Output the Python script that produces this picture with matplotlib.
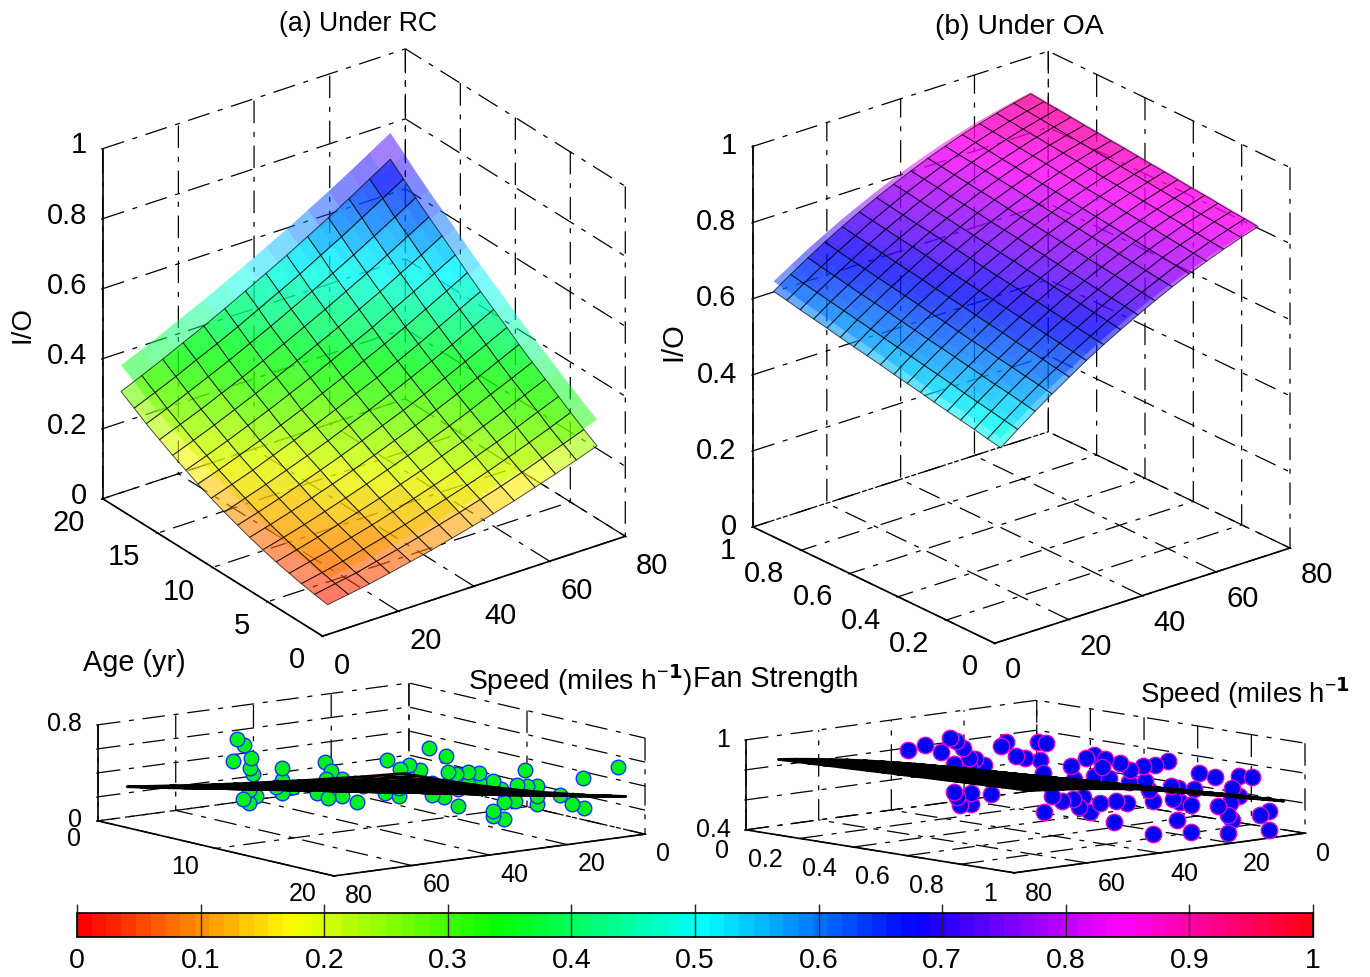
import numpy as np
import matplotlib
matplotlib.use("Agg")
import matplotlib.pyplot as plt
from matplotlib.cm import ScalarMappable
from matplotlib.colors import Normalize
from matplotlib.transforms import Affine2D
from mpl_toolkits.mplot3d import proj3d

W, H = 1370, 977
plt.rcParams['font.family'] = ['Liberation Sans', 'DejaVu Sans']
plt.rcParams['mathtext.default'] = 'regular'
plt.rcParams['grid.color'] = 'black'
plt.rcParams['grid.linewidth'] = 0.9
plt.rcParams['grid.linestyle'] = (0, (18, 7, 4, 7))
plt.rcParams['axes.linewidth'] = 1.0

# ---------- data ----------
speed_rc = [2.8, 8.3, 13.8, 19.2, 24.7, 30.2, 35.7, 41.1, 46.6, 52.1, 57.6, 63.0, 68.5, 74.0]
age_rc = [0.5, 1.7, 2.9, 4.0, 5.2, 6.4, 7.6, 8.7, 9.9, 11.1, 12.3, 13.4, 14.6, 15.8, 17.0, 18.1, 19.3]
io_rc = [
    [.070, .080, .090, .102, .115, .128, .143, .158, .174, .191, .210, .229, .249, .270],
    [.076, .087, .098, .112, .126, .141, .157, .173, .191, .209, .229, .250, .271, .293],
    [.083, .095, .108, .123, .138, .154, .172, .189, .208, .228, .249, .271, .294, .318],
    [.091, .105, .119, .135, .151, .169, .187, .206, .226, .248, .270, .293, .318, .342],
    [.100, .115, .131, .148, .166, .184, .204, .224, .246, .268, .292, .316, .342, .368],
    [.111, .127, .144, .162, .181, .201, .222, .243, .266, .289, .314, .340, .366, .393],
    [.123, .140, .158, .177, .197, .218, .240, .263, .286, .311, .337, .364, .392, .420],
    [.136, .154, .173, .194, .215, .237, .260, .284, .308, .334, .361, .389, .418, .447],
    [.150, .170, .190, .211, .233, .256, .281, .305, .331, .358, .386, .414, .445, .475],
    [.166, .186, .207, .230, .253, .277, .302, .328, .354, .382, .411, .441, .472, .503],
    [.183, .204, .226, .249, .273, .298, .325, .351, .379, .407, .437, .468, .500, .533],
    [.201, .223, .246, .270, .295, .321, .348, .376, .404, .433, .465, .496, .529, .562],
    [.220, .243, .267, .292, .318, .345, .373, .401, .430, .461, .492, .525, .558, .593],
    [.241, .265, .289, .315, .341, .369, .398, .427, .457, .489, .521, .554, .589, .623],
    [.263, .287, .313, .339, .366, .395, .424, .454, .485, .517, .550, .584, .619, .655],
    [.286, .311, .337, .365, .392, .421, .452, .482, .513, .547, .580, .615, .651, .687],
    [.310, .336, .363, .391, .419, .449, .480, .511, .543, .577, .611, .646, .683, .720],
]
speed_oa = [3.6, 8.2, 12.9, 17.5, 22.2, 26.8, 31.5, 36.1, 40.8, 45.4, 50.1, 54.7, 59.4, 64.0, 68.7, 73.3]
fan_oa = [.03, .085, .14, .196, .251, .306, .362, .417, .472, .528, .583, .638, .694, .749, .804, .86, .915, .97]
io_oa = [
    [.493, .527, .560, .591, .621, .650, .677, .702, .726, .749, .771, .791, .809, .826, .842, .856],
    [.500, .534, .567, .598, .627, .656, .682, .708, .732, .754, .775, .795, .813, .830, .846, .860],
    [.508, .541, .574, .604, .634, .662, .688, .713, .737, .759, .780, .800, .818, .834, .850, .863],
    [.515, .548, .580, .611, .640, .668, .694, .719, .742, .765, .785, .804, .822, .839, .853, .867],
    [.522, .555, .587, .617, .646, .674, .700, .725, .748, .770, .790, .809, .827, .843, .857, .871],
    [.529, .563, .594, .624, .653, .680, .706, .730, .753, .775, .795, .814, .831, .847, .861, .874],
    [.537, .570, .601, .630, .659, .686, .712, .736, .758, .780, .800, .818, .835, .851, .865, .878],
    [.544, .577, .608, .637, .665, .692, .718, .741, .764, .785, .805, .823, .840, .855, .869, .882],
    [.551, .584, .614, .644, .672, .698, .723, .747, .769, .790, .809, .827, .844, .859, .873, .885],
    [.559, .591, .621, .650, .678, .704, .729, .752, .775, .795, .814, .832, .848, .863, .877, .889],
    [.566, .598, .628, .657, .684, .710, .735, .758, .780, .800, .819, .837, .853, .868, .881, .893],
    [.573, .605, .635, .663, .691, .716, .741, .764, .785, .805, .824, .841, .857, .872, .885, .896],
    [.580, .612, .642, .670, .697, .723, .747, .769, .791, .811, .829, .846, .862, .876, .888, .900],
    [.588, .619, .648, .676, .703, .729, .753, .775, .796, .816, .834, .851, .866, .880, .892, .903],
    [.595, .626, .655, .683, .710, .735, .758, .780, .801, .821, .839, .855, .870, .884, .896, .907],
    [.602, .633, .662, .689, .716, .741, .764, .786, .807, .826, .844, .860, .875, .888, .900, .911],
    [.610, .640, .669, .696, .722, .747, .770, .792, .812, .831, .848, .865, .879, .892, .904, .914],
    [.617, .647, .676, .703, .729, .753, .776, .797, .817, .836, .853, .869, .883, .896, .908, .918],
]
lift_rc = .075
lift_oa = [.026, .024, .023, .021, .020, .018, .017, .015, .014, .012, .011, .009, .008, .006, .005, .004]
pts_rc_speed = [59.4, 57.7, 60.5, 55.7, 56, 55.2, 56.3, 58, 56.3, 54.6, 47.8, 47.8, 49.5, 47.8, 45, 36.8, 50.5, 51.7, 47.7, 38.8, 51.1, 47.7, 43.8, 44.3, 42.1, 36.1, 32.7, 30.4, 27.5, 36.1, 33, 36.4, 33, 25.1, 20.9, 35.5, 33.4, 30.4, 27.6, 24.5, 26.8, 24.5, 21.3, 21.3, 32.9, 32.9, 30.4, 27.6, 23.8, 21.8, 17.8, 15.7, 15.3, 12.7, 12.7, 12.7, 21, 18.2, 23.8, 21, 23.8, 15.9, 12.8, 9.7, 10, 0.9]
pts_rc_age = [5]*16 + [10, 10, 10, 5] + [10]*15 + [15]*4 + [10]*5 + [15]*17 + [18]*5
pts_rc_io = [.708, .653, .525, .532, .450, .398, .269, .205, .157, .211, .414, .316, .267, .204, .247, .418, .515, .456, .441, .165, .294, .298, .233, .391, .353, .543, .453, .477, .422, .341, .300, .273, .229, .595, .514, .560, .531, .533, .512, .306, .286, .207, .263, .173, .403, .263, .434, .436, .434, .355, .374, .488, .349, .344, .259, .189, .245, .241, .181, .105, .139, .349, .261, .214, .467, .518]
pts_oa_speed = [50.1, 45.4, 41.2, 38.7, 36.9, 35.1, 24.7, 23.2, 20.4, 18, 14.5, 26.9, 37.5, 33.5, 31.7, 29.3, 33.5, 14, 27.7, 20.1, 19.2, 15.9, 13.8, 25.6, 26.4, 13.8, 24.4, 21.3, 18.6, 15, 11.8, 8.2, 18.9, 14.6, 13.4, 37.5, 36.6, 32.9, 32.9, 35.9, 27.4, 27.5, 25.3, 22.5, 19.6, 16.8, 18, 15, 26.8, 22.5, 19.5, 22.9, 12.2, 27, 16.7, 7.3, 5.5, 15.8, 6.8, 4.9, 16.7, 20.4, 14.3, 10, 3.4, 14.6, 5.2, 3.4, 5.8, 9.2, 6.4, 5.2, 21.2, 12.4, 10, 10, 0, 0, 0, 0, 0]
pts_oa_fan = [.2]*11 + [.4] + [.2]*6 + [.4]*5 + [.6, .6, .4] + [.6]*9 + [.2]*6 + [.4]*7 + [.6]*5 + [.8, .8, .6, .6, .8, .6, .6] + [.8]*5 + [1] + [.8]*6 + [1]*9
pts_oa_io = [.890, .909, .851, .933, .909, .853, .834, .856, .754, .729, .829, .921, .755, .783, .771, .724, .732, .705, .723, .744, .653, .783, .796, .865, .813, .658, .733, .824, .771, .781, .777, .794, .689, .681, .617, .567, .531, .546, .475, .477, .525, .460, .560, .518, .521, .523, .460, .417, .574, .571, .551, .435, .539, .428, .403, .625, .608, .687, .534, .507, .585, .501, .793, .749, .733, .825, .661, .599, .563, .557, .487, .449, .474, .565, .579, .457, .76, .70, .615, .525, .405]

speed_ticks = [0, 20, 40, 60, 80]
age_ticks_top = [0, 5, 10, 15, 20]
age_ticks_low = [0, 10, 20]
fan_ticks = [0, .2, .4, .6, .8, 1]
cbar_ticks = [0, .1, .2, .3, .4, .5, .6, .7, .8, .9, 1]
cbar_labels = ['0', '0.1', '0.2', '0.3', '0.4', '0.5', '0.6', '0.7', '0.8', '0.9', '1']

cmap = plt.get_cmap('hsv').resampled(84)
fig = plt.figure(figsize=(W / 100, H / 100), dpi=100, facecolor='white')


def fit(ax, p_a, p_b, t_a, t_b):
    """Scale and move a square 3D axes so two box corners fall on target pixels."""
    def disp(p):
        ax.apply_aspect()
        x, y, _ = proj3d.proj_transform(p[0], p[1], p[2], ax.get_proj())
        d = ax.transData.transform((x, y))
        return np.array([d[0], H - d[1]])
    size, cx, cy = 600.0, W / 2, H / 2
    for _ in range(3):
        ax.set_position([(cx - size / 2) / W, (H - cy - size / 2) / H, size / W, size / H])
        a, b = disp(p_a), disp(p_b)
        k = np.linalg.norm(np.subtract(t_b, t_a)) / np.linalg.norm(b - a)
        size *= k
        ax.set_position([(cx - size / 2) / W, (H - cy - size / 2) / H, size / W, size / H])
        a, b = disp(p_a), disp(p_b)
        mid = (a + b) / 2
        cx += (t_a[0] + t_b[0]) / 2 - mid[0]
        cy += (t_a[1] + t_b[1]) / 2 - mid[1]
    ax.set_position([(cx - size / 2) / W, (H - cy - size / 2) / H, size / W, size / H])


def shift_labels(axis, dx, dy, ha):
    """Nudge one axis' tick labels by (dx, dy) pixels and set their alignment."""
    original = axis.get_major_ticks
    offset = Affine2D().translate(dx, dy)

    def patched(numticks=None):
        ticks = original(numticks)
        for t in ticks:
            t.label1.set_transform(axis.axes.transData + offset)
            t.label1.set_ha(ha)
        return ticks
    axis.get_major_ticks = patched


def base_axes(elev, azim, aspect, xl, yl, zl, xt, yt, zt, xlab, ylab, zlab, fs, pad):
    ax = fig.add_subplot(projection='3d', proj_type='ortho', computed_zorder=False)
    ax.patch.set_alpha(0)
    ax.view_init(elev=elev, azim=azim)
    ax.set_box_aspect(aspect)
    ax.set_xlim(*xl, view_margin=0)
    ax.set_ylim(*yl, view_margin=0)
    ax.set_zlim(*zl, view_margin=0)
    ax.set_xticks(xt, xlab, fontsize=fs)
    ax.set_yticks(yt, ylab, fontsize=fs)
    ax.set_zticks(zt, zlab, fontsize=fs)
    for a, p in zip((ax.xaxis, ax.yaxis, ax.zaxis), pad):
        a.set_pane_color((1, 1, 1, 0))
        a.pane.set_edgecolor((1, 1, 1, 0))
        a.line.set_color('black')
        a.line.set_linewidth(1.2)
        a.set_tick_params(pad=p, colors='black', width=1.0)
        a._axinfo['tick']['inward_factor'] = 0.05
        a._axinfo['tick']['outward_factor'] = 0.02
    return ax


def surf(ax, X, Y, Z, gain, shift, alpha, edge, lw, zorder):
    X, Y = np.meshgrid(X, Y)
    Z = np.asarray(Z)
    col = cmap(np.clip(gain * Z + shift, 0, 1))
    col[..., 3] = alpha
    ax.plot_surface(X, Y, Z, facecolors=col, rstride=1, cstride=1, shade=False,
                    edgecolor=edge, linewidth=lw, antialiased=True, zorder=zorder)


# ---------- (a) ----------
ax_a = base_axes(27, -126, (1, 1, 1.05), (0, 80), (0, 20), (0, 1),
                 speed_ticks, age_ticks_top, [0, .2, .4, .6, .8, 1],
                 ['0', '20', '40', '60', '80'], ['0', '5', '10', '15', '20'],
                 ['0', '0.2', '0.4', '0.6', '0.8', '1'], 21, (6, 6, 6))
surf(ax_a, speed_rc, age_rc, np.asarray(io_rc) + lift_rc, 1.0, 0.0, 0.5, 'none', 0, 2)
surf(ax_a, speed_rc, age_rc, io_rc, 1.08, -0.04, 0.6, (0, 0, 0, 0.7), 0.7, 3)
fit(ax_a, (0, 20, 0), (80, 0, 0), (103, 495), (625, 540))
shift_labels(ax_a.xaxis, -2, 13, 'left')
shift_labels(ax_a.yaxis, 0, 16, 'right')
shift_labels(ax_a.zaxis, 15, 15, 'right')

# ---------- (b) ----------
ax_b = base_axes(23.2, -129.3, (1, 1, 1.085), (0, 80), (0, 1), (0, 1),
                 speed_ticks, fan_ticks, [0, .2, .4, .6, .8, 1],
                 ['0', '20', '40', '60', '80'], ['0', '0.2', '0.4', '0.6', '0.8', '1'],
                 ['0', '0.2', '0.4', '0.6', '0.8', '1'], 21, (6, 6, 6))
surf(ax_b, speed_oa, fan_oa, np.asarray(io_oa) + np.asarray(lift_oa), 1.0, 0.0, 0.5, 'none', 0, 2)
surf(ax_b, speed_oa, fan_oa, io_oa, 1.0, 0.0, 0.6, (0, 0, 0, 0.7), 0.7, 3)
fit(ax_b, (0, 1, 0), (80, 0, 0), (753, 527), (1290, 548))
shift_labels(ax_b.xaxis, -3, 15, 'left')
shift_labels(ax_b.yaxis, 0, 17, 'right')
shift_labels(ax_b.zaxis, 14, 13, 'right')

# ---------- (c) ----------
ax_c = base_axes(10.2, 52.8, (1, 1, 0.25), (0, 80), (0, 20), (0, .8),
                 speed_ticks, age_ticks_low, [0, .2, .4, .6, .8],
                 ['0', '20', '40', '60', '80'], ['0', '10', '20'],
                 ['0', '', '', '', '0.8'], 18, (4, 4, 4))
ax_c.scatter(pts_rc_speed, pts_rc_age, pts_rc_io, s=110, c='#00f020', edgecolors='#1030ff',
             linewidths=1.0, depthshade=False, zorder=2)
surf(ax_c, speed_rc, age_rc, io_rc, 1.0, 0.0, 1.0, 'black', 2.0, 3)
fit(ax_c, (80, 0, 0), (0, 20, 0), (98, 820), (645, 835))
shift_labels(ax_c.xaxis, -3, 1, 'left')
shift_labels(ax_c.yaxis, 1, 2, 'right')
shift_labels(ax_c.zaxis, 16, 12, 'right')

# ---------- (d) ----------
ax_d = base_axes(8.5, 47.3, (1, 1, 0.23), (0, 80), (0, 1), (.4, 1),
                 speed_ticks, fan_ticks, [.4, .6, .8, 1],
                 ['0', '20', '40', '60', '80'], ['0', '0.2', '0.4', '0.6', '0.8', '1'],
                 ['0.4', '', '', '1'], 18, (4, 4, 4))
ax_d.scatter(pts_oa_speed, pts_oa_fan, pts_oa_io, s=140, c='#0000f0', edgecolors='#e000d0',
             linewidths=1.0, depthshade=False, zorder=2)
surf(ax_d, speed_oa, fan_oa, io_oa, 1.0, 0.0, 1.0, 'black', 2.0, 3)
fit(ax_d, (80, 0, .4), (0, 1, .4), (746, 830), (1305, 833))
shift_labels(ax_d.xaxis, -5, -1, 'left')
shift_labels(ax_d.yaxis, 0, -2, 'right')
shift_labels(ax_d.zaxis, 17, 12, 'right')

# ---------- colour bar ----------
cax = fig.add_axes([77 / W, 1 - 937 / H, (1313 - 77) / W, 24 / H])
cb = fig.colorbar(ScalarMappable(Normalize(0, 1), cmap), cax=cax, orientation='horizontal', ticks=cbar_ticks)
cb.ax.set_xticklabels(cbar_labels, fontsize=20.5)
cb.ax.tick_params(direction='in', length=24, width=1.0, pad=8, color='#222222')
cb.outline.set_linewidth(1.2)


def label(px, py, s, size=17, **kw):
    fig.text(px / W, 1 - py / H, s, fontsize=size, va='center', **kw)


label(279, 24, '(a) Under RC', 19.2)
label(935, 27, '(b) Under OA', 20.4)
label(83, 663, 'Age (yr)', 20.8)
label(468, 680, 'Speed (miles h$^{-\\mathbf{1}}$)', 20.3)
label(693, 679, 'Fan Strength', 20.6)
label(1140, 693, 'Speed (miles h$^{-\\mathbf{1}}$', 19.9)
label(22, 325, 'I/O', 20, rotation=90, ha='center')
label(673, 342, 'I/O', 21, rotation=90, ha='center')

fig.savefig('out.png', dpi=100)
